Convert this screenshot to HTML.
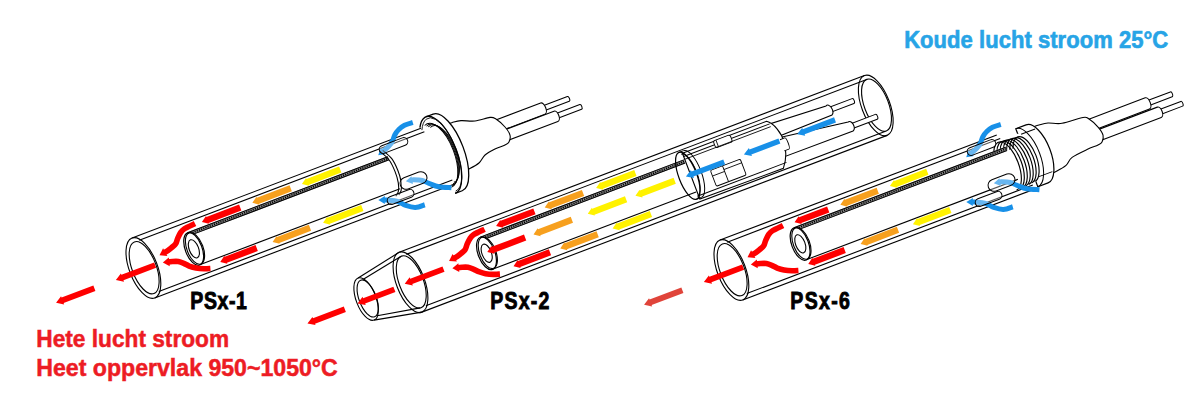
<!DOCTYPE html>
<html><head><meta charset="utf-8"><style>html,body{margin:0;padding:0;background:#fff;overflow:hidden}svg{display:block}</style></head>
<body><svg width="1200" height="400" viewBox="0 0 1200 400" style="font-family:'Liberation Sans',sans-serif;font-weight:bold">
<rect width="1200" height="400" fill="#fff"/>
<g transform="translate(143.4,268.0) rotate(-20.8)"><path d="M427.0,-9.8 L457.3,-9.8 A1.2,2.6 0 0 1 457.3,-4.6 L427.0,-4.6" fill="#fff" stroke="#000" stroke-width="1.0"/><path d="M375.0,-13.2 L430.0,-13.2 A3.0,6.0 0 0 1 430.0,-1.2 L375.0,-1.2" fill="#fff" stroke="#000" stroke-width="1.1"/><path d="M436.5,2.2 L466.0,2.2 A1.2,2.5 0 0 1 466.0,7.2 L436.5,7.2" fill="#fff" stroke="#000" stroke-width="1.0"/><path d="M375.0,-0.8 L439.5,-0.8 A3.0,5.5 0 0 1 439.5,10.2 L375.0,10.2" fill="#fff" stroke="#000" stroke-width="1.1"/><path d="M326.0,-27.0 C328.3,-26.9 336.1,-26.6 340.0,-26.3 C343.9,-26.0 345.5,-26.1 349.2,-25.0 C352.9,-23.9 357.5,-20.9 362.2,-19.7 C366.9,-18.5 374.1,-18.6 377.5,-17.7 C380.9,-16.8 380.7,-16.5 382.5,-14.1 C384.3,-11.7 386.9,-6.7 388.1,-3.4 C389.3,-0.1 390.2,3.3 389.9,5.9 C389.6,8.5 387.9,10.8 386.5,12.0 C385.1,13.2 384.3,13.1 381.7,13.4 C379.1,13.7 374.6,13.2 370.9,13.6 C367.2,14.0 362.8,14.5 359.5,15.7 C356.2,16.9 354.3,19.8 351.0,21.0 C347.7,22.2 343.7,22.6 339.5,23.1 C335.3,23.6 328.2,23.9 326.0,24.0 Z" fill="#fff" stroke="#000" stroke-width="1.1"/><path d="M318,-41 L325.5,-41 A16.3,41 0 0 1 325.5,41 L318,41 Z" fill="#fff" stroke="none"/><path d="M318,-41 L325.5,-41 A16.3,41 0 0 1 325.5,41 L318,41" fill="none" stroke="#000" stroke-width="1.3"/><path d="M308.3,-33 A16.3,41 0 0 1 334.3,0 A16.3,41 0 0 1 318,41" fill="none" stroke="#000" stroke-width="1.3"/><path d="M309.3,-30 A15.5,39 0 0 1 334.7,0 A15.5,39 0 0 1 319.2,39" fill="none" stroke="#000" stroke-width="0.8"/><path d="M313.5,-33.3 A15.0,34.0 0 0 1 331.5,0 A15.0,34.0 0 0 1 316.5,34.0" fill="none" stroke="#000" stroke-width="0.9"/><path d="M315.0,-32.0 A14.4,32.7 0 0 1 332.3,0 A14.4,32.7 0 0 1 317.9,32.7" fill="none" stroke="#000" stroke-width="0.9"/><path d="M316.5,-30.8 A13.8,31.4 0 0 1 333.1,0 A13.8,31.4 0 0 1 319.3,31.4" fill="none" stroke="#000" stroke-width="0.9"/><path d="M318.1,-29.5 A13.2,30.1 0 0 1 333.9,0 A13.2,30.1 0 0 1 320.7,30.1" fill="none" stroke="#000" stroke-width="0.9"/><ellipse cx="0.0" cy="0.0" rx="14.1" ry="32.0" stroke="#000" stroke-width="1.1" fill="none"/><ellipse cx="0.8" cy="0.0" rx="12.1" ry="27.6" stroke="#000" stroke-width="1.1" fill="none"/><path d="M0.0,-32.0 L309.0,-32.0" stroke="#000" stroke-width="1.1" fill="none"/><path d="M6.0,-27.5 L311.0,-27.5" stroke="#000" stroke-width="1.1" fill="none"/><path d="M0.0,32.0 L320.0,32.0" stroke="#000" stroke-width="1.1" fill="none"/><path d="M6.0,27.5 L320.0,27.5" stroke="#000" stroke-width="1.1" fill="none"/><path d="M53.8,-17.8 L268.0,-17.8 L268.0,-13.4 L53.8,-13.4 Z" fill="#8a8a8a"/><path d="M53.8,-17.3 L268.0,-17.3" stroke="#000" stroke-width="1.0" fill="none"/><path d="M53.8,-13.9 L268.0,-13.9" stroke="#000" stroke-width="1.0" fill="none"/><path d="M53.8,-15.6 L268.0,-15.6" stroke="#000" stroke-width="1.6" stroke-dasharray="1.2,1.1" fill="none"/><path d="M53.8,17.0 L268.0,17.0" stroke="#000" stroke-width="1.1" fill="none"/><ellipse cx="55.2" cy="0.0" rx="8.1" ry="16.6" stroke="#000" stroke-width="1.1" fill="#fff"/><ellipse cx="53.8" cy="0.0" rx="8.4" ry="17.2" stroke="#000" stroke-width="1.2" fill="none"/><ellipse cx="54.0" cy="0.0" rx="4.7" ry="9.6" stroke="#000" stroke-width="1.1" fill="none"/><path d="M71.0,-22.2 L77.0,-26.4 L77.0,-25.4 L112.0,-25.4 L112.0,-19.0 L77.0,-19.0 L77.0,-18.0 Z" fill="#fe0000"/><path d="M125.0,-22.2 L131.0,-26.4 L131.0,-25.4 L166.0,-25.4 L166.0,-19.0 L131.0,-19.0 L131.0,-18.0 Z" fill="#f7a01e"/><path d="M178.0,-22.2 L184.0,-26.4 L184.0,-25.4 L219.0,-25.4 L219.0,-19.0 L184.0,-19.0 L184.0,-18.0 Z" fill="#fff200"/><path d="M74.0,21.6 L80.0,17.4 L80.0,18.4 L113.0,18.4 L113.0,24.8 L80.0,24.8 L80.0,25.8 Z" fill="#fe0000"/><path d="M130.0,21.6 L136.0,17.4 L136.0,18.4 L170.0,18.4 L170.0,24.8 L136.0,24.8 L136.0,25.8 Z" fill="#f7a01e"/><path d="M184.0,21.6 L190.0,17.4 L190.0,18.4 L226.0,18.4 L226.0,24.8 L190.0,24.8 L190.0,25.8 Z" fill="#fff200"/><path d="M64.0,-23.2 C62.0,-23.0 55.1,-22.7 52.3,-22.1 C49.5,-21.5 48.7,-20.8 47.1,-19.7 C45.5,-18.6 44.0,-17.0 42.6,-15.6 C41.2,-14.2 40.3,-12.3 38.8,-11.2 C37.3,-10.1 35.2,-9.6 33.6,-9.0 C32.0,-8.4 30.4,-7.9 29.0,-7.6 C27.6,-7.3 25.9,-7.1 25.2,-7.0" stroke="#fe0000" stroke-width="5.6" fill="none"/><path d="M19.6,-6.2 L25.4,-11.5 L26.7,-2.8 Z" fill="#fe0000"/><path d="M62.5,24.2 C61.5,23.9 58.6,23.1 56.4,22.2 C54.2,21.3 51.4,20.0 49.2,18.7 C47.1,17.4 45.1,15.8 43.5,14.4 C41.9,13.0 40.8,11.3 39.4,10.0 C38.0,8.7 36.6,7.4 35.0,6.4 C33.4,5.5 31.1,4.8 29.5,4.3 C27.9,3.8 26.3,3.4 25.6,3.3" stroke="#fe0000" stroke-width="5.6" fill="none"/><path d="M20.1,1.8 L27.5,-0.8 L25.3,7.7 Z" fill="#fe0000"/><path d="M-30.0,1.5 L-23.0,-2.9 L-23.0,-1.4 L12.0,-1.4 L12.0,4.4 L-23.0,4.4 L-23.0,5.9 Z" fill="#fe0000"/><path d="M-94.0,1.5 L-87.0,-2.9 L-87.0,-1.4 L-53.0,-1.4 L-53.0,4.4 L-87.0,4.4 L-87.0,5.9 Z" fill="#fe0000"/><path d="M303.5,-40.4 C302.1,-40.5 297.4,-41.1 294.8,-40.8 C292.2,-40.5 289.7,-39.7 287.6,-38.7 C285.5,-37.8 283.8,-36.5 282.2,-35.1 C280.6,-33.7 279.6,-31.7 278.0,-30.3 C276.4,-28.9 274.7,-27.7 272.5,-26.6 C270.3,-25.5 266.2,-24.4 265.0,-24.0" stroke="#1890e8" stroke-width="5.0" fill="none"/><path d="M259.6,-22.1 L264.4,-28.0 L267.1,-20.5 Z" fill="#1890e8"/><path d="M316.5,34.3 C314.6,33.4 308.2,31.0 305.0,29.0 C301.8,27.0 299.3,24.3 297.1,22.4 C294.9,20.4 294.0,18.8 291.8,17.3 C289.6,15.8 285.7,14.2 284.0,13.5 C282.3,12.8 282.1,13.2 281.7,13.1" stroke="#1890e8" stroke-width="5.0" fill="none"/><path d="M276.1,12.1 L283.2,9.3 L281.8,17.2 Z" fill="#1890e8"/><path d="M285.5,40.8 C283.9,40.7 278.8,41.0 275.8,40.0 C272.8,39.0 269.9,36.7 267.5,34.7 C265.1,32.7 263.6,29.8 261.2,27.9 C258.8,26.0 255.0,24.4 253.0,23.4 C251.0,22.4 249.8,22.1 249.1,21.9" stroke="#1890e8" stroke-width="5.0" fill="none"/><path d="M243.8,19.8 L251.3,18.4 L248.4,25.9 Z" fill="#1890e8"/><path d="M265.5,-25.0 C266.4,-23.2 269.8,-18.0 271.0,-14.0 C272.2,-10.0 272.4,-5.2 272.5,-1.0 C272.6,3.2 272.2,7.7 271.5,11.0 C270.8,14.3 269.7,17.1 268.5,19.0 C267.3,20.9 265.2,21.9 264.5,22.5" fill="none" stroke="#000" stroke-width="1.1"/><path d="M262.5,-25.0 C263.4,-23.2 266.8,-18.0 268.0,-14.0 C269.2,-10.0 269.4,-5.2 269.5,-1.0 C269.6,3.2 269.2,7.7 268.5,11.0 C267.8,14.3 266.7,17.1 265.5,19.0 C264.3,20.9 262.2,21.9 261.5,22.5" fill="none" stroke="#000" stroke-width="1.1"/></g><g transform="rotate(-20.8 393.5 145.5)"><rect x="378.5" y="141.5" width="30.0" height="8.0" rx="4.0" ry="4.0" fill="rgba(255,255,255,0.35)" stroke="#000" stroke-width="1.0"/></g><g transform="rotate(-20.8 413.5 180.5)"><rect x="399.5" y="174.5" width="28.0" height="12.0" rx="6.0" ry="6.0" fill="rgba(255,255,255,0.35)" stroke="#000" stroke-width="1.0"/></g><g transform="rotate(-20.8 400.6 197.0)"><rect x="386.6" y="193.0" width="28.0" height="8.0" rx="4.0" ry="4.0" fill="rgba(255,255,255,0.35)" stroke="#000" stroke-width="1.0"/></g><g transform="translate(410.5,282.2) rotate(-20.8)"><path d="M-47.5,-22.5 L0.0,-32.0" stroke="#000" stroke-width="1.1" fill="none"/><path d="M-47.5,22.5 L0.0,32.0" stroke="#000" stroke-width="1.1" fill="none"/><path d="M-43.0,-19.5 L0.0,-27.5" stroke="#000" stroke-width="1.1" fill="none"/><path d="M-43.0,19.5 L0.0,27.5" stroke="#000" stroke-width="1.1" fill="none"/><ellipse cx="-47.5" cy="0.0" rx="9.9" ry="22.5" stroke="#000" stroke-width="1.1" fill="none"/><ellipse cx="-45.8" cy="0.0" rx="8.6" ry="19.6" stroke="#000" stroke-width="1.1" fill="none"/><ellipse cx="0.0" cy="0.0" rx="14.1" ry="32.0" stroke="#000" stroke-width="1.1" fill="none"/><ellipse cx="0.8" cy="0.0" rx="12.1" ry="27.6" stroke="#000" stroke-width="1.1" fill="none"/><path d="M0.0,-32.0 L497.7,-32.0" stroke="#000" stroke-width="1.1" fill="none"/><path d="M6.0,-27.5 L497.7,-27.5" stroke="#000" stroke-width="1.1" fill="none"/><path d="M0.0,32.0 L497.7,32.0" stroke="#000" stroke-width="1.1" fill="none"/><path d="M6.0,27.5 L497.7,27.5" stroke="#000" stroke-width="1.1" fill="none"/><ellipse cx="497.7" cy="0.0" rx="14.1" ry="32.0" stroke="#000" stroke-width="1.1" fill="none"/><ellipse cx="498.5" cy="0.0" rx="12.1" ry="27.6" stroke="#000" stroke-width="1.1" fill="none"/><path d="M81.3,-17.8 L299.0,-17.8 L299.0,-13.4 L81.3,-13.4 Z" fill="#8a8a8a"/><path d="M81.3,-17.3 L299.0,-17.3" stroke="#000" stroke-width="1.0" fill="none"/><path d="M81.3,-13.9 L299.0,-13.9" stroke="#000" stroke-width="1.0" fill="none"/><path d="M81.3,-15.6 L299.0,-15.6" stroke="#000" stroke-width="1.6" stroke-dasharray="1.2,1.1" fill="none"/><path d="M81.3,17.0 L299.0,17.0" stroke="#000" stroke-width="1.1" fill="none"/><ellipse cx="82.7" cy="0.0" rx="8.1" ry="16.6" stroke="#000" stroke-width="1.1" fill="#fff"/><ellipse cx="81.3" cy="0.0" rx="8.4" ry="17.2" stroke="#000" stroke-width="1.2" fill="none"/><ellipse cx="81.5" cy="0.0" rx="4.7" ry="9.6" stroke="#000" stroke-width="1.1" fill="none"/><path d="M100.0,-22.2 L106.0,-26.4 L106.0,-25.4 L141.0,-25.4 L141.0,-19.0 L106.0,-19.0 L106.0,-18.0 Z" fill="#fe0000"/><path d="M152.0,-22.2 L158.0,-26.4 L158.0,-25.4 L193.0,-25.4 L193.0,-19.0 L158.0,-19.0 L158.0,-18.0 Z" fill="#f7a01e"/><path d="M207.0,-22.2 L213.0,-26.4 L213.0,-25.4 L249.0,-25.4 L249.0,-19.0 L213.0,-19.0 L213.0,-18.0 Z" fill="#fff200"/><path d="M102.0,21.6 L108.0,17.4 L108.0,18.4 L141.0,18.4 L141.0,24.8 L108.0,24.8 L108.0,25.8 Z" fill="#fe0000"/><path d="M152.0,21.6 L158.0,17.4 L158.0,18.4 L192.0,18.4 L192.0,24.8 L158.0,24.8 L158.0,25.8 Z" fill="#f7a01e"/><path d="M208.0,21.6 L214.0,17.4 L214.0,18.4 L249.0,18.4 L249.0,24.8 L214.0,24.8 L214.0,25.8 Z" fill="#fff200"/><path d="M82.5,-1.0 L88.5,-5.2 L88.5,-4.2 L123.0,-4.2 L123.0,2.2 L88.5,2.2 L88.5,3.2 Z" fill="#fe0000"/><path d="M132.0,-1.0 L138.0,-5.2 L138.0,-4.2 L173.0,-4.2 L173.0,2.2 L138.0,2.2 L138.0,3.2 Z" fill="#f7a01e"/><path d="M190.0,-1.0 L196.0,-5.2 L196.0,-4.2 L231.0,-4.2 L231.0,2.2 L196.0,2.2 L196.0,3.2 Z" fill="#fff200"/><path d="M241.0,-1.0 L247.0,-5.2 L247.0,-4.2 L283.0,-4.2 L283.0,2.2 L247.0,2.2 L247.0,3.2 Z" fill="#fff200"/><path d="M88.0,-23.2 C86.0,-23.0 79.1,-22.7 76.3,-22.1 C73.5,-21.5 72.7,-20.8 71.1,-19.7 C69.5,-18.6 68.0,-17.0 66.6,-15.6 C65.2,-14.2 64.3,-12.3 62.8,-11.2 C61.3,-10.1 59.2,-9.6 57.6,-9.0 C56.0,-8.4 54.4,-7.9 53.0,-7.6 C51.6,-7.3 49.9,-7.1 49.2,-7.0" stroke="#fe0000" stroke-width="5.6" fill="none"/><path d="M43.6,-6.2 L49.4,-11.5 L50.7,-2.8 Z" fill="#fe0000"/><path d="M86.5,24.2 C85.5,23.9 82.6,23.1 80.4,22.2 C78.2,21.3 75.4,20.0 73.2,18.7 C71.0,17.4 69.1,15.8 67.5,14.4 C65.9,13.0 64.8,11.3 63.4,10.0 C62.0,8.7 60.6,7.4 59.0,6.4 C57.4,5.5 55.1,4.8 53.5,4.3 C51.9,3.8 50.3,3.4 49.6,3.3" stroke="#fe0000" stroke-width="5.6" fill="none"/><path d="M44.1,1.8 L51.5,-0.8 L49.3,7.7 Z" fill="#fe0000"/><path d="M-6.0,-0.5 L1.0,-4.9 L1.0,-3.4 L35.5,-3.4 L35.5,2.4 L1.0,2.4 L1.0,3.9 Z" fill="#fe0000"/><path d="M-57.0,1.0 L-50.0,-3.4 L-50.0,-1.9 L-17.6,-1.9 L-17.6,3.9 L-50.0,3.9 L-50.0,5.4 Z" fill="#fe0000"/><path d="M-111.0,2.0 L-104.0,-2.4 L-104.0,-0.9 L-71.0,-0.9 L-71.0,4.9 L-104.0,4.9 L-104.0,6.4 Z" fill="#fe0000"/><path d="M448,-14.8 L478,-14.8 A1.3,2.6 0 0 1 478,-9.6 L448,-9.6" fill="#fff" stroke="#000" stroke-width="1.0"/><path d="M380,-21 L451,-17.2 A3.2,5.3 0 0 1 453.4,-6.6 L380,-5.3 Z" fill="#fff" stroke="#000" stroke-width="1.1"/><path d="M463,8.2 L494.2,8.2 A1.3,2.6 0 0 1 494.2,13.4 L463,13.4" fill="#fff" stroke="#000" stroke-width="1.0"/><path d="M380,-6.5 L466,5.6 A3.2,5.1 0 0 1 467.4,15.8 L380,15.4 Z" fill="#fff" stroke="#000" stroke-width="1.1"/><path d="M300,-24 L390,-24 C396,-20 400,-8 399,2 C398,12 394,20 389,26 L300,25 Z" fill="#fff" stroke="#000" stroke-width="1.1"/><path d="M300.0,-20.5 L392.0,-20.5" stroke="#000" stroke-width="0.9" fill="none"/><path d="M300.0,21.5 L394.0,21.5" stroke="#000" stroke-width="0.9" fill="none"/><path d="M396,-2 L401,-2 A1.5,6 0 0 1 401,10 L396,10" fill="#fff" stroke="#000" stroke-width="0.9"/><path d="M297.0,-26.0 L302.0,-26.0" stroke="#000" stroke-width="1.0" fill="none"/><path d="M297.0,24.0 L302.0,24.0" stroke="#000" stroke-width="1.0" fill="none"/><path d="M302,-26 A9.0,25 0 0 1 302,24" fill="none" stroke="#000" stroke-width="1.0"/><ellipse cx="297.0" cy="-1.0" rx="9.0" ry="25.0" stroke="#000" stroke-width="1.2" fill="none"/><path d="M298.5,-23.5 A8.1,22.5 0 0 1 298.5,21.5" fill="none" stroke="#000" stroke-width="0.9"/><rect x="333" y="-24.5" width="18" height="7.5" rx="2" fill="#fff" stroke="#000" stroke-width="0.9"/><path d="M336.0,-24.5 L336.0,-17.0" stroke="#000" stroke-width="0.8" fill="none"/><rect x="320" y="2" width="32" height="17" rx="1.5" fill="#fff" stroke="#000" stroke-width="0.9"/><path d="M333.0,2.0 L333.0,19.0" stroke="#000" stroke-width="0.9" fill="none"/><path d="M320.0,8.0 L333.0,8.0" stroke="#000" stroke-width="0.8" fill="none"/><path d="M333.0,6.0 L352.0,6.0" stroke="#000" stroke-width="0.8" fill="none"/><path d="M300.0,-17.5 L392.0,-17.5" stroke="#000" stroke-width="0.8" fill="none"/><path d="M295.0,-1.0 L302.0,-5.2 L302.0,-3.7 L336.0,-3.7 L336.0,1.7 L302.0,1.7 L302.0,3.2 Z" fill="#1890e8"/><path d="M357.0,-1.0 L364.0,-5.2 L364.0,-3.7 L395.0,-3.7 L395.0,1.7 L364.0,1.7 L364.0,3.2 Z" fill="#1890e8"/><path d="M414.0,-1.0 L421.0,-5.2 L421.0,-3.7 L454.5,-3.7 L454.5,1.7 L421.0,1.7 L421.0,3.2 Z" fill="#1890e8"/></g><g transform="translate(731.4,270.0) rotate(-20.8)"><path d="M445.0,-10.6 L473.6,-10.6 A1.2,2.6 0 0 1 473.6,-5.4 L445.0,-5.4" fill="#fff" stroke="#000" stroke-width="1.0"/><path d="M380.0,-14.0 L448.0,-14.0 A3.0,6.0 0 0 1 448.0,-2.0 L380.0,-2.0" fill="#fff" stroke="#000" stroke-width="1.1"/><path d="M453.0,2.0 L480.0,2.0 A1.2,2.5 0 0 1 480.0,7.0 L453.0,7.0" fill="#fff" stroke="#000" stroke-width="1.0"/><path d="M380.0,-1.0 L456.0,-1.0 A3.0,5.5 0 0 1 456.0,10.0 L380.0,10.0" fill="#fff" stroke="#000" stroke-width="1.1"/><path d="M325.0,-27.0 C327.3,-26.9 335.1,-26.6 339.0,-26.3 C342.9,-26.0 344.5,-26.1 348.2,-25.0 C351.9,-23.9 355.4,-20.9 361.2,-19.7 C367.0,-18.5 378.4,-18.6 382.9,-17.7 C387.3,-16.8 386.1,-16.5 387.9,-14.1 C389.7,-11.7 392.3,-6.7 393.5,-3.4 C394.7,-0.1 395.6,3.3 395.3,5.9 C395.0,8.5 393.3,10.8 391.9,12.0 C390.5,13.2 389.7,13.1 387.1,13.4 C384.5,13.7 381.1,13.2 376.3,13.6 C371.5,14.0 362.9,14.5 358.5,15.7 C354.1,16.9 353.3,19.8 350.0,21.0 C346.7,22.2 342.7,22.6 338.5,23.1 C334.3,23.6 327.2,23.9 325.0,24.0 Z" fill="#fff" stroke="#000" stroke-width="1.1"/><path d="M316,-31 L327,-31 A13.6,31 0 0 1 327,31 L316,31 Z" fill="#fff" stroke="#000" stroke-width="1.2"/><path d="M316,-31 A13.6,31 0 0 1 316,31" fill="none" stroke="#000" stroke-width="1.0"/><path d="M319.0,-24.0 L334.0,-24.0" stroke="#000" stroke-width="0.9" fill="none"/><path d="M320.0,22.0 L335.0,22.0" stroke="#000" stroke-width="0.9" fill="none"/><path d="M296,-26 L314,-26 A11.4,26 0 0 1 314,26 L296,26 Z" fill="#fff" stroke="none"/><path d="M286.0,-14.3 A11.2,25.5 0 0 1 306.2,1 A11.2,25.5 0 0 1 295.0,26.5" fill="none" stroke="#000" stroke-width="1.15"/><path d="M289.4,-14.1 A11.1,25.2 0 0 1 309.4,1 A11.1,25.2 0 0 1 298.3,26.2" fill="none" stroke="#000" stroke-width="1.15"/><path d="M292.8,-14.0 A11.0,25.0 0 0 1 312.6,1 A11.0,25.0 0 0 1 301.6,26.0" fill="none" stroke="#000" stroke-width="1.15"/><path d="M296.2,-13.8 A10.9,24.8 0 0 1 315.8,1 A10.9,24.8 0 0 1 304.9,25.8" fill="none" stroke="#000" stroke-width="1.15"/><path d="M299.6,-13.7 A10.8,24.5 0 0 1 319.0,1 A10.8,24.5 0 0 1 308.2,25.5" fill="none" stroke="#000" stroke-width="1.15"/><path d="M303.0,-13.5 A10.7,24.2 0 0 1 322.2,1 A10.7,24.2 0 0 1 311.5,25.2" fill="none" stroke="#000" stroke-width="1.15"/><path d="M306.4,-13.4 A10.6,24.0 0 0 1 325.4,1 A10.6,24.0 0 0 1 314.8,25.0" fill="none" stroke="#000" stroke-width="1.15"/><ellipse cx="0.0" cy="0.0" rx="14.1" ry="32.0" stroke="#000" stroke-width="1.1" fill="none"/><ellipse cx="0.8" cy="0.0" rx="12.1" ry="27.6" stroke="#000" stroke-width="1.1" fill="none"/><path d="M0.0,-32.0 L296.0,-32.0" stroke="#000" stroke-width="1.1" fill="none"/><path d="M6.0,-27.5 L298.0,-27.5" stroke="#000" stroke-width="1.1" fill="none"/><path d="M0.0,32.0 L312.0,32.0" stroke="#000" stroke-width="1.1" fill="none"/><path d="M6.0,27.5 L312.0,27.5" stroke="#000" stroke-width="1.1" fill="none"/><path d="M73.5,-17.8 L300.0,-17.8 L300.0,-13.4 L73.5,-13.4 Z" fill="#8a8a8a"/><path d="M73.5,-17.3 L300.0,-17.3" stroke="#000" stroke-width="1.0" fill="none"/><path d="M73.5,-13.9 L300.0,-13.9" stroke="#000" stroke-width="1.0" fill="none"/><path d="M73.5,-15.6 L300.0,-15.6" stroke="#000" stroke-width="1.6" stroke-dasharray="1.2,1.1" fill="none"/><path d="M73.5,17.0 L300.0,17.0" stroke="#000" stroke-width="1.1" fill="none"/><ellipse cx="74.9" cy="0.0" rx="8.1" ry="16.6" stroke="#000" stroke-width="1.1" fill="#fff"/><ellipse cx="73.5" cy="0.0" rx="8.4" ry="17.2" stroke="#000" stroke-width="1.2" fill="none"/><ellipse cx="73.7" cy="0.0" rx="4.7" ry="9.6" stroke="#000" stroke-width="1.1" fill="none"/><path d="M76.0,-22.2 L82.0,-26.4 L82.0,-25.4 L112.0,-25.4 L112.0,-19.0 L82.0,-19.0 L82.0,-18.0 Z" fill="#fe0000"/><path d="M125.0,-22.2 L131.0,-26.4 L131.0,-25.4 L165.0,-25.4 L165.0,-19.0 L131.0,-19.0 L131.0,-18.0 Z" fill="#f7a01e"/><path d="M178.0,-22.2 L184.0,-26.4 L184.0,-25.4 L218.0,-25.4 L218.0,-19.0 L184.0,-19.0 L184.0,-18.0 Z" fill="#fff200"/><path d="M74.0,21.6 L80.0,17.4 L80.0,18.4 L113.0,18.4 L113.0,24.8 L80.0,24.8 L80.0,25.8 Z" fill="#fe0000"/><path d="M130.0,21.6 L136.0,17.4 L136.0,18.4 L170.0,18.4 L170.0,24.8 L136.0,24.8 L136.0,25.8 Z" fill="#f7a01e"/><path d="M186.0,21.6 L192.0,17.4 L192.0,18.4 L226.0,18.4 L226.0,24.8 L192.0,24.8 L192.0,25.8 Z" fill="#fff200"/><path d="M64.0,-23.2 C62.0,-23.0 55.1,-22.7 52.3,-22.1 C49.5,-21.5 48.7,-20.8 47.1,-19.7 C45.5,-18.6 44.0,-17.0 42.6,-15.6 C41.2,-14.2 40.3,-12.3 38.8,-11.2 C37.3,-10.1 35.2,-9.6 33.6,-9.0 C32.0,-8.4 30.4,-7.9 29.0,-7.6 C27.6,-7.3 25.9,-7.1 25.2,-7.0" stroke="#fe0000" stroke-width="5.6" fill="none"/><path d="M19.6,-6.2 L25.4,-11.5 L26.7,-2.8 Z" fill="#fe0000"/><path d="M62.5,24.2 C61.5,23.9 58.6,23.1 56.4,22.2 C54.2,21.3 51.4,20.0 49.2,18.7 C47.1,17.4 45.1,15.8 43.5,14.4 C41.9,13.0 40.8,11.3 39.4,10.0 C38.0,8.7 36.6,7.4 35.0,6.4 C33.4,5.5 31.1,4.8 29.5,4.3 C27.9,3.8 26.3,3.4 25.6,3.3" stroke="#fe0000" stroke-width="5.6" fill="none"/><path d="M20.1,1.8 L27.5,-0.8 L25.3,7.7 Z" fill="#fe0000"/><path d="M-30.0,1.5 L-23.0,-2.9 L-23.0,-1.4 L12.0,-1.4 L12.0,4.4 L-23.0,4.4 L-23.0,5.9 Z" fill="#fe0000"/><path d="M-94.0,1.5 L-87.0,-2.9 L-87.0,-1.4 L-53.0,-1.4 L-53.0,4.4 L-87.0,4.4 L-87.0,5.9 Z" fill="#e0443a"/><path d="M303.5,-40.4 C302.1,-40.5 297.4,-41.1 294.8,-40.8 C292.2,-40.5 289.7,-39.7 287.6,-38.7 C285.5,-37.8 283.8,-36.5 282.2,-35.1 C280.6,-33.7 279.6,-31.7 278.0,-30.3 C276.4,-28.9 274.7,-27.7 272.5,-26.6 C270.3,-25.5 266.2,-24.4 265.0,-24.0" stroke="#1890e8" stroke-width="5.0" fill="none"/><path d="M259.6,-22.1 L264.4,-28.0 L267.1,-20.5 Z" fill="#1890e8"/><path d="M316.5,34.3 C314.6,33.4 308.2,31.0 305.0,29.0 C301.8,27.0 299.3,24.3 297.1,22.4 C294.9,20.4 294.0,18.8 291.8,17.3 C289.6,15.8 285.7,14.2 284.0,13.5 C282.3,12.8 282.1,13.2 281.7,13.1" stroke="#1890e8" stroke-width="5.0" fill="none"/><path d="M276.1,12.1 L283.2,9.3 L281.8,17.2 Z" fill="#1890e8"/><path d="M285.5,40.8 C283.9,40.7 278.8,41.0 275.8,40.0 C272.8,39.0 269.9,36.7 267.5,34.7 C265.1,32.7 263.6,29.8 261.2,27.9 C258.8,26.0 255.0,24.4 253.0,23.4 C251.0,22.4 249.8,22.1 249.1,21.9" stroke="#1890e8" stroke-width="5.0" fill="none"/><path d="M243.8,19.8 L251.3,18.4 L248.4,25.9 Z" fill="#1890e8"/></g><g transform="rotate(-20.8 981.5 147.5)"><rect x="966.5" y="143.5" width="30.0" height="8.0" rx="4.0" ry="4.0" fill="rgba(255,255,255,0.35)" stroke="#000" stroke-width="1.0"/></g><g transform="rotate(-20.8 1001.5 182.5)"><rect x="987.5" y="176.5" width="28.0" height="12.0" rx="6.0" ry="6.0" fill="rgba(255,255,255,0.35)" stroke="#000" stroke-width="1.0"/></g><g transform="rotate(-20.8 988.6 199.0)"><rect x="974.6" y="195.0" width="28.0" height="8.0" rx="4.0" ry="4.0" fill="rgba(255,255,255,0.35)" stroke="#000" stroke-width="1.0"/></g>
<text transform="translate(904.2,47.7) scale(1,1.12)" x="0" y="0" font-size="22" fill="#27a4e6" stroke="#27a4e6" stroke-width="0.6" textLength="264" lengthAdjust="spacing">Koude lucht stroom 25°C</text><text transform="translate(190.3,309.4) scale(1,1.23)" x="0" y="0" font-size="19.5" fill="#000" stroke="#000" stroke-width="0.75" textLength="56.6" lengthAdjust="spacing">PSx-1</text><text transform="translate(490.3,309.4) scale(1,1.23)" x="0" y="0" font-size="19.5" fill="#000" stroke="#000" stroke-width="0.75" textLength="59" lengthAdjust="spacing">PSx-2</text><text transform="translate(790.3,309.4) scale(1,1.23)" x="0" y="0" font-size="19.5" fill="#000" stroke="#000" stroke-width="0.75" textLength="59.5" lengthAdjust="spacing">PSx-6</text><text transform="translate(36.3,347.4) scale(1,1.0)" x="0" y="0" font-size="23.3" fill="#ed1c24" stroke="#ed1c24" stroke-width="0.5" textLength="192.8" lengthAdjust="spacingAndGlyphs">Hete lucht stroom</text><text transform="translate(36.3,376.2) scale(1,1.0)" x="0" y="0" font-size="23.3" fill="#ed1c24" stroke="#ed1c24" stroke-width="0.5" textLength="301.5" lengthAdjust="spacingAndGlyphs">Heet oppervlak 950~1050°C</text>
</svg></body></html>
